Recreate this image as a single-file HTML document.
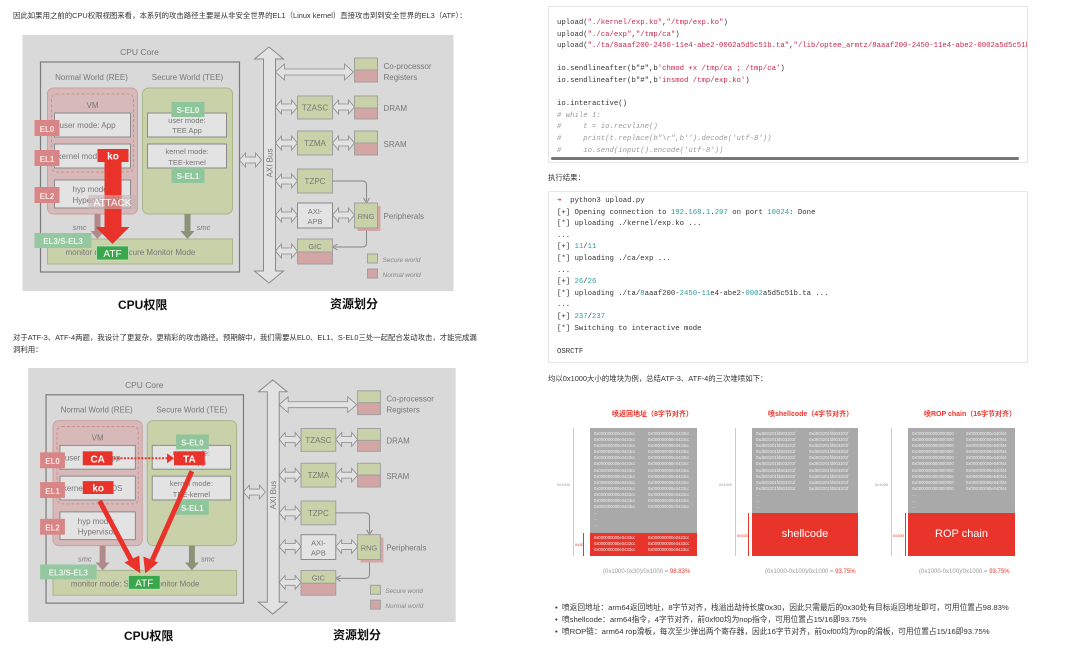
<!DOCTYPE html>
<html><head><meta charset="utf-8"><style>
*{margin:0;padding:0;box-sizing:border-box}
body{width:1080px;height:648px;background:#fff;position:relative;overflow:hidden;font-family:"Liberation Sans","Noto Sans CJK SC",sans-serif;color:#333}
.a{position:absolute;white-space:nowrap}
.p{font-size:7.4px;color:#333}
.cap{font-size:12px;font-weight:bold;color:#111}
.code{position:absolute;left:548px;width:480px;border:1px solid #e6e6e6;background:#fff;overflow:hidden}
pre{position:absolute;left:8px;font-family:"Liberation Mono",monospace;font-size:7.3px;line-height:11.6px;color:#333}
.s{color:#c8284b}.n{color:#2a9d9f}.c{color:#9a9a9a;font-style:italic}
.hx{position:absolute;font-size:4.2px;line-height:6.1px;color:#eee;font-family:"Liberation Sans",sans-serif}
.ct{position:absolute;font-size:7px;font-weight:bold;color:#e8342a;font-family:"Liberation Sans","Noto Sans CJK SC",sans-serif}
.fm{position:absolute;font-size:6px;color:#999}.fm b{color:#e8342a;font-weight:normal}
.bl{position:absolute;left:555px;font-size:7.7px;color:#333}
svg text{font-family:"Liberation Sans",sans-serif}
</style></head><body>

<svg width="0" height="0" style="position:absolute">
<defs>
<path id="dl" d="M253 0 L259 -7 L259 -3 L269 -3 L269 -7 L275 0 L269 7 L269 3 L259 3 L259 7 Z" fill="#e2e2e2" stroke="#8a8a8a" stroke-width="0.8"/>
<path id="dr" d="M310 0 L316 -7 L316 -3 L326 -3 L326 -7 L332 0 L326 7 L326 3 L316 3 L316 7 Z" fill="#e2e2e2" stroke="#8a8a8a" stroke-width="0.8"/>
<symbol id="diag" viewBox="0 0 431 256">
<rect width="431" height="256" fill="#d9d9d9"/>
<text x="117" y="20" font-size="8.5" fill="#777" text-anchor="middle">CPU Core</text>
<rect x="18" y="27" width="199" height="210" fill="none" stroke="#7a7a7a" stroke-width="1.2"/>
<text x="69" y="45" font-size="8" fill="#777" text-anchor="middle">Normal World (REE)</text>
<text x="165" y="45" font-size="8" fill="#777" text-anchor="middle">Secure World (TEE)</text>
<rect x="25" y="53" width="90" height="126" rx="6" fill="#d8b9b9" stroke="#c9a0a0"/>
<rect x="29" y="59" width="82" height="78" rx="5" fill="none" stroke="#d08e8e" stroke-dasharray="3,2"/>
<text x="70" y="73" font-size="8" fill="#777" text-anchor="middle">VM</text>
<rect x="32" y="78" width="76" height="24" fill="#e3e3e3" stroke="#8a8a8a"/>
<text x="37" y="93" font-size="8" fill="#777">user mode: App</text>
<rect x="32" y="109" width="76" height="24" fill="#e3e3e3" stroke="#8a8a8a"/>
<text x="35" y="124" font-size="8" fill="#777">kernel mode: OS</text>
<rect x="32" y="145" width="76" height="28" fill="#e3e3e3" stroke="#8a8a8a"/>
<text x="50" y="157" font-size="8" fill="#777">hyp mode:</text>
<text x="50" y="168" font-size="8" fill="#777">Hypervisor</text>
<rect x="120" y="53" width="90" height="126" rx="6" fill="#c9d1a8" stroke="#a9b48a"/>
<rect x="125" y="78" width="79" height="24" fill="#e3e3e3" stroke="#8a8a8a"/>
<text x="164.5" y="88" font-size="7.5" fill="#777" text-anchor="middle">user mode:</text>
<text x="164.5" y="98" font-size="7.5" fill="#777" text-anchor="middle">TEE App</text>
<rect x="125" y="109" width="79" height="24" fill="#e3e3e3" stroke="#8a8a8a"/>
<text x="164.5" y="119" font-size="7.5" fill="#777" text-anchor="middle">kernel mode:</text>
<text x="164.5" y="130" font-size="7.5" fill="#777" text-anchor="middle">TEE-kernel</text>
<rect x="149" y="67" width="33" height="15" fill="#8fc59b"/>
<text x="165.5" y="78" font-size="8" fill="#e8f4ea" text-anchor="middle" font-family="Liberation Serif" font-weight="bold">S-EL0</text>
<rect x="149" y="133" width="33" height="15" fill="#8fc59b"/>
<text x="165.5" y="144" font-size="8" fill="#e8f4ea" text-anchor="middle" font-family="Liberation Serif" font-weight="bold">S-EL1</text>
<rect x="12" y="85" width="25" height="16" fill="#da8585"/>
<text x="24.5" y="97" font-size="8" fill="#f7e3e3" text-anchor="middle" font-family="Liberation Serif" font-weight="bold">EL0</text>
<rect x="12" y="115" width="25" height="16" fill="#da8585"/>
<text x="24.5" y="127" font-size="8" fill="#f7e3e3" text-anchor="middle" font-family="Liberation Serif" font-weight="bold">EL1</text>
<rect x="12" y="152" width="25" height="16" fill="#da8585"/>
<text x="24.5" y="164" font-size="8" fill="#f7e3e3" text-anchor="middle" font-family="Liberation Serif" font-weight="bold">EL2</text>
<path d="M72 179 H78 V196 H82 L75 204 L68 196 H72 Z" fill="#b08a8a"/>
<path d="M162 179 H168 V196 H172 L165 204 L158 196 H162 Z" fill="#8a9378"/>
<text x="57" y="195" font-size="7.5" fill="#777" font-style="italic" text-anchor="middle">smc</text>
<text x="181" y="195" font-size="7.5" fill="#777" font-style="italic" text-anchor="middle">smc</text>
<rect x="25" y="204" width="185" height="25" fill="#c9d1a8" stroke="#a9b48a"/>
<text x="43" y="220" font-size="8" fill="#777">monitor mode: Secure Monitor Mode</text>
<rect x="12" y="198" width="57" height="15" fill="#95c8a0"/>
<text x="40.5" y="209" font-size="8" fill="#e8f4ea" text-anchor="middle" font-family="Liberation Serif" font-weight="bold">EL3/S-EL3</text>
<path d="M246.5 12 L261 24 L253 24 L253 236 L261 236 L246.5 248 L232 236 L241 236 L241 24 L232 24 Z" fill="#e2e2e2" stroke="#8a8a8a"/>
<text x="0" y="0" font-size="8" fill="#777" transform="translate(250,128) rotate(-90)" text-anchor="middle">AXI Bus</text>
<path d="M217 125 L223 118 L223 122 L233 122 L233 118 L239 125 L233 132 L233 128 L223 128 L223 132 Z" fill="#e2e2e2" stroke="#8a8a8a" stroke-width="0.8"/>
<path d="M253 37 L262 29 L262 34 L322 34 L322 29 L331 37 L322 45 L322 40 L262 40 L262 45 Z" fill="#e2e2e2" stroke="#8a8a8a" stroke-width="0.8"/>
<rect x="332" y="23" width="23" height="12" fill="#c9d1a8" stroke="#a0a0a0"/><rect x="332" y="35" width="23" height="12" fill="#d4a5a5" stroke="#a0a0a0"/>
<text x="361" y="34" font-size="8" fill="#777">Co-processor</text>
<text x="361" y="45" font-size="8" fill="#777">Registers</text>
<use href="#dl" y="72"/><use href="#dr" y="72"/>
<rect x="275" y="61" width="35" height="23" fill="#c9d1a8" stroke="#a0a0a0"/>
<text x="292.5" y="75.5" font-size="8" fill="#777" text-anchor="middle">TZASC</text>
<rect x="332" y="61" width="23" height="12" fill="#c9d1a8" stroke="#a0a0a0"/><rect x="332" y="73" width="23" height="11" fill="#d4a5a5" stroke="#a0a0a0"/>
<text x="361" y="76" font-size="8" fill="#777">DRAM</text>
<use href="#dl" y="108"/><use href="#dr" y="108"/>
<rect x="275" y="96" width="35" height="24" fill="#c9d1a8" stroke="#a0a0a0"/>
<text x="292.5" y="111" font-size="8" fill="#777" text-anchor="middle">TZMA</text>
<rect x="332" y="96" width="23" height="12" fill="#c9d1a8" stroke="#a0a0a0"/><rect x="332" y="108" width="23" height="12" fill="#d4a5a5" stroke="#a0a0a0"/>
<text x="361" y="112" font-size="8" fill="#777">SRAM</text>
<use href="#dl" y="146"/>
<rect x="275" y="134" width="35" height="24" fill="#c9d1a8" stroke="#a0a0a0"/>
<text x="292.5" y="149" font-size="8" fill="#777" text-anchor="middle">TZPC</text>
<path d="M310 146 H340 Q344 146 344 150 V166" fill="none" stroke="#888"/>
<path d="M341 163 L344 168 L347 163" fill="none" stroke="#888"/>
<use href="#dl" y="180"/><use href="#dr" y="180"/>
<rect x="275" y="168" width="35" height="25" fill="#e3e3e3" stroke="#8a8a8a"/>
<text x="292.5" y="179" font-size="7.5" fill="#777" text-anchor="middle">AXI-</text>
<text x="292.5" y="189" font-size="7.5" fill="#777" text-anchor="middle">APB</text>
<rect x="335" y="171" width="23" height="25" fill="#d4a5a5"/>
<rect x="332" y="168" width="23" height="25" fill="#c9d1a8" stroke="#a0a0a0"/>
<text x="343.5" y="184" font-size="7.5" fill="#777" text-anchor="middle">RNG</text>
<text x="361" y="184" font-size="8" fill="#777">Peripherals</text>
<path d="M344 196 V208 Q344 212 340 212 H312" fill="none" stroke="#888"/>
<path d="M315 209 L310 212 L315 215" fill="none" stroke="#888"/>
<use href="#dl" y="216"/>
<rect x="275" y="204" width="35" height="13" fill="#c9d1a8" stroke="#a0a0a0"/><rect x="275" y="217" width="35" height="12" fill="#d4a5a5" stroke="#a0a0a0"/>
<text x="292.5" y="214" font-size="7.5" fill="#777" text-anchor="middle">GIC</text>
<rect x="345" y="219" width="10" height="9" fill="#c9d1a8" stroke="#a0a0a0"/>
<text x="360" y="227" font-size="6.5" fill="#888" font-style="italic">Secure world</text>
<rect x="345" y="234" width="10" height="9" fill="#d4a5a5" stroke="#a0a0a0"/>
<text x="360" y="242" font-size="6.5" fill="#888" font-style="italic">Normal world</text>
</symbol>
</defs></svg>

<div class="a p" style="left:13px;top:10px">因此如果用之前的CPU权限视图来看，本系列的攻击路径主要是从非安全世界的EL1（Linux kernel）直接攻击到到安全世界的EL3（ATF）：</div>

<svg class="a" style="left:22px;top:35px" width="432" height="256" viewBox="0 0 431 256">
<use href="#diag" width="431" height="256"/>
<rect x="82" y="127" width="17" height="66" fill="#e8322a"/>
<path d="M73 192 L107 192 L90 209 Z" fill="#e8322a"/>
<rect x="75" y="114" width="31" height="13" fill="#e8322a"/>
<text x="90.5" y="124.5" font-size="10" fill="#fff" text-anchor="middle" font-weight="bold">ko</text>
<rect x="66" y="160" width="48" height="14" fill="#c7b3b3" opacity="0.6"/>
<text x="90" y="171" font-size="10" fill="#fff" text-anchor="middle">ATTACK</text>
<rect x="74" y="211" width="32" height="14" fill="#3aa84a" stroke="#bfe3c3" stroke-width="0.8"/>
<text x="90" y="222" font-size="10" fill="#fff" text-anchor="middle">ATF</text>
</svg>
<div class="a cap" style="left:118px;top:296px">CPU权限</div>
<div class="a cap" style="left:330px;top:295px">资源划分</div>

<div class="a p" style="left:13px;top:332px">对于ATF-3、ATF-4两题，我设计了更复杂，更精彩的攻击路径。预期解中，我们需要从EL0、EL1、S-EL0三处一起配合发动攻击，才能完成漏</div>
<div class="a p" style="left:13px;top:344px">洞利用：</div>

<svg class="a" style="left:28px;top:368px" width="428" height="254" viewBox="0 0 431 256">
<use href="#diag" width="431" height="256"/>
<rect x="55" y="84" width="30" height="14" fill="#e8322a"/>
<text x="70" y="95" font-size="10" fill="#fff" text-anchor="middle" font-weight="bold">CA</text>
<line x1="86" y1="91" x2="141" y2="91" stroke="#e8322a" stroke-width="2" stroke-dasharray="2,1.5"/>
<path d="M140 86 L147 91 L140 96 Z" fill="#e8322a"/>
<rect x="147" y="84" width="31" height="14" fill="#e8322a"/>
<text x="162.5" y="95" font-size="10" fill="#fff" text-anchor="middle" font-weight="bold">TA</text>
<rect x="55" y="114" width="31" height="13" fill="#e8322a"/>
<text x="70.5" y="124.5" font-size="10" fill="#fff" text-anchor="middle" font-weight="bold">ko</text>
<line x1="72" y1="134" x2="105" y2="196" stroke="#e8322a" stroke-width="5"/>
<path d="M97 196 L112 189 L113 207 Z" fill="#e8322a"/>
<line x1="165" y1="104" x2="124" y2="196" stroke="#e8322a" stroke-width="5"/>
<path d="M116 190 L131 196 L118 207 Z" fill="#e8322a"/>
<rect x="101" y="209" width="32" height="14" fill="#3aa84a" stroke="#bfe3c3" stroke-width="0.8"/>
<text x="117" y="220" font-size="10" fill="#fff" text-anchor="middle">ATF</text>
</svg>
<div class="a cap" style="left:124px;top:627px">CPU权限</div>
<div class="a cap" style="left:333px;top:626px">资源划分</div>

<div class="code" style="top:6px;height:157px">
<pre style="top:11px">upload(<span class="s">"./kernel/exp.ko"</span>,<span class="s">"/tmp/exp.ko"</span>)
upload(<span class="s">"./ca/exp"</span>,<span class="s">"/tmp/ca"</span>)
upload(<span class="s">"./ta/8aaaf200-2450-11e4-abe2-0002a5d5c51b.ta"</span>,<span class="s">"/lib/optee_armtz/8aaaf200-2450-11e4-abe2-0002a5d5c51b.ta"</span>

io.sendlineafter(b"#",b<span class="s">'chmod +x /tmp/ca ; /tmp/ca'</span>)
io.sendlineafter(b"#",b<span class="s">'insmod /tmp/exp.ko'</span>)

io.interactive()
<span class="c"># while 1:
#     t = io.recvline()
#     print(t.replace(b"\r",b'').decode('utf-8'))
#     io.send(input().encode('utf-8'))</span></pre>
<div style="position:absolute;left:2px;top:150px;width:468px;height:3px;background:#777;border-radius:2px"></div>
</div>
<div class="a p" style="left:548px;top:172px">执行结果：</div>
<div class="code" style="top:191px;height:172px">
<pre style="top:4px"><span style="color:#e8322a">➜</span>  python3 upload.py
[+] Opening connection to <span class="n">192</span>.<span class="n">168</span>.<span class="n">1</span>.<span class="n">207</span> on port <span class="n">10024</span>: Done
[*] uploading ./kernel/exp.ko ...
...
[+] <span class="n">11</span>/<span class="n">11</span>
[*] uploading ./ca/exp ...
...
[+] <span class="n">26</span>/<span class="n">26</span>
[*] uploading ./ta/<span class="n">8</span>aaaf200-<span class="n">2450</span>-<span class="n">11</span>e4-abe2-<span class="n">0002</span>a5d5c51b.ta ...
...
[+] <span class="n">237</span>/<span class="n">237</span>
[*] Switching to interactive mode

OSRCTF</pre>
</div>
<div class="a p" style="left:548px;top:373px">均以0x1000大小的堆块为例，总结ATF-3、ATF-4的三次堆喷如下：</div>

<!-- chart 1 -->
<div class="ct" style="left:612px;top:409px">喷返回地址（8字节对齐）</div>
<div class="a" style="left:590px;top:428px;width:107px;height:105px;background:#a9a9a9"></div>
<div class="a" style="left:590px;top:533px;width:107px;height:23px;background:#e8342a"></div>
<div class="hx" style="left:594px;top:431px">0x000000000e0433cc<br>0x000000000e0433cc<br>0x000000000e0433cc<br>0x000000000e0433cc<br>0x000000000e0433cc<br>0x000000000e0433cc<br>0x000000000e0433cc<br>0x000000000e0433cc<br>0x000000000e0433cc<br>0x000000000e0433cc<br>0x000000000e0433cc<br>0x000000000e0433cc<br>0x000000000e0433cc<br>...<br>...<br>...</div>
<div class="hx" style="left:648px;top:431px">0x000000000e0433cc<br>0x000000000e0433cc<br>0x000000000e0433cc<br>0x000000000e0433cc<br>0x000000000e0433cc<br>0x000000000e0433cc<br>0x000000000e0433cc<br>0x000000000e0433cc<br>0x000000000e0433cc<br>0x000000000e0433cc<br>0x000000000e0433cc<br>0x000000000e0433cc<br>0x000000000e0433cc</div>
<div class="hx" style="left:594px;top:535px">0x000000000e0433cc<br>0x000000000e0433cc<br>0x000000000e0433cc</div>
<div class="hx" style="left:648px;top:535px">0x000000000e0433cc<br>0x000000000e0433cc<br>0x000000000e0433cc</div>
<div class="a" style="left:573px;top:428px;width:1px;height:128px;background:#ccc"></div>
<div class="a" style="left:583px;top:533px;width:1px;height:23px;background:#e8342a"></div>
<div class="fm" style="left:557px;top:482px;font-size:4px">0x1000</div>
<div class="fm" style="left:575px;top:542px;font-size:4px;color:#e8342a">0x30</div>
<div class="fm" style="left:603px;top:569px">(0x1000-0x30)/0x1000 = <b>98.83%</b></div>

<!-- chart 2 -->
<div class="ct" style="left:768px;top:409px">喷shellcode（4字节对齐）</div>
<div class="a" style="left:752px;top:428px;width:106px;height:85px;background:#a9a9a9"></div>
<div class="a" style="left:752px;top:513px;width:106px;height:43px;background:#e8342a;color:#fff;font-size:11px;text-align:center;line-height:43px">shellcode</div>
<div class="hx" style="left:756px;top:431px">0xd503201fd503201f<br>0xd503201fd503201f<br>0xd503201fd503201f<br>0xd503201fd503201f<br>0xd503201fd503201f<br>0xd503201fd503201f<br>0xd503201fd503201f<br>0xd503201fd503201f<br>0xd503201fd503201f<br>0xd503201fd503201f<br>...<br>...<br>...</div>
<div class="hx" style="left:809px;top:431px">0xd503201fd503201f<br>0xd503201fd503201f<br>0xd503201fd503201f<br>0xd503201fd503201f<br>0xd503201fd503201f<br>0xd503201fd503201f<br>0xd503201fd503201f<br>0xd503201fd503201f<br>0xd503201fd503201f<br>0xd503201fd503201f</div>
<div class="a" style="left:735px;top:428px;width:1px;height:128px;background:#ccc"></div>
<div class="a" style="left:748px;top:513px;width:1px;height:43px;background:#e8342a"></div>
<div class="fm" style="left:719px;top:482px;font-size:4px">0x1000</div>
<div class="fm" style="left:737px;top:533px;font-size:4px;color:#e8342a">0x100</div>
<div class="fm" style="left:765px;top:569px">(0x1000-0x100)/0x1000 = <b>93.75%</b></div>

<!-- chart 3 -->
<div class="ct" style="left:924px;top:409px">喷ROP chain（16字节对齐）</div>
<div class="a" style="left:908px;top:428px;width:107px;height:85px;background:#a9a9a9"></div>
<div class="a" style="left:908px;top:513px;width:107px;height:43px;background:#e8342a;color:#fff;font-size:11px;text-align:center;line-height:43px">ROP chain</div>
<div class="hx" style="left:912px;top:431px">0x0000000000000000<br>0x0000000000000000<br>0x0000000000000000<br>0x0000000000000000<br>0x0000000000000000<br>0x0000000000000000<br>0x0000000000000000<br>0x0000000000000000<br>0x0000000000000000<br>0x0000000000000000<br>...<br>...<br>...</div>
<div class="hx" style="left:966px;top:431px">0x000000000e040f44<br>0x000000000e040f44<br>0x000000000e040f44<br>0x000000000e040f44<br>0x000000000e040f44<br>0x000000000e040f44<br>0x000000000e040f44<br>0x000000000e040f44<br>0x000000000e040f44<br>0x000000000e040f44</div>
<div class="a" style="left:891px;top:428px;width:1px;height:128px;background:#ccc"></div>
<div class="a" style="left:905px;top:513px;width:1px;height:43px;background:#e8342a"></div>
<div class="fm" style="left:875px;top:482px;font-size:4px">0x1000</div>
<div class="fm" style="left:893px;top:533px;font-size:4px;color:#e8342a">0x100</div>
<div class="fm" style="left:919px;top:569px">(0x1000-0x100)/0x1000 = <b>93.75%</b></div>

<div class="bl" style="top:602px">•&nbsp;&nbsp;喷返回地址：arm64返回地址，8字节对齐，栈溢出劫持长度0x30，因此只需最后的0x30处有目标返回地址即可，可用位置占98.83%</div>
<div class="bl" style="top:614px">•&nbsp;&nbsp;喷shellcode：arm64指令，4字节对齐，前0xf00均为nop指令，可用位置占15/16即93.75%</div>
<div class="bl" style="top:626px">•&nbsp;&nbsp;喷ROP链：arm64 rop滑板，每次至少弹出两个寄存器，因此16字节对齐，前0xf00均为rop的滑板，可用位置占15/16即93.75%</div>
</body></html>
